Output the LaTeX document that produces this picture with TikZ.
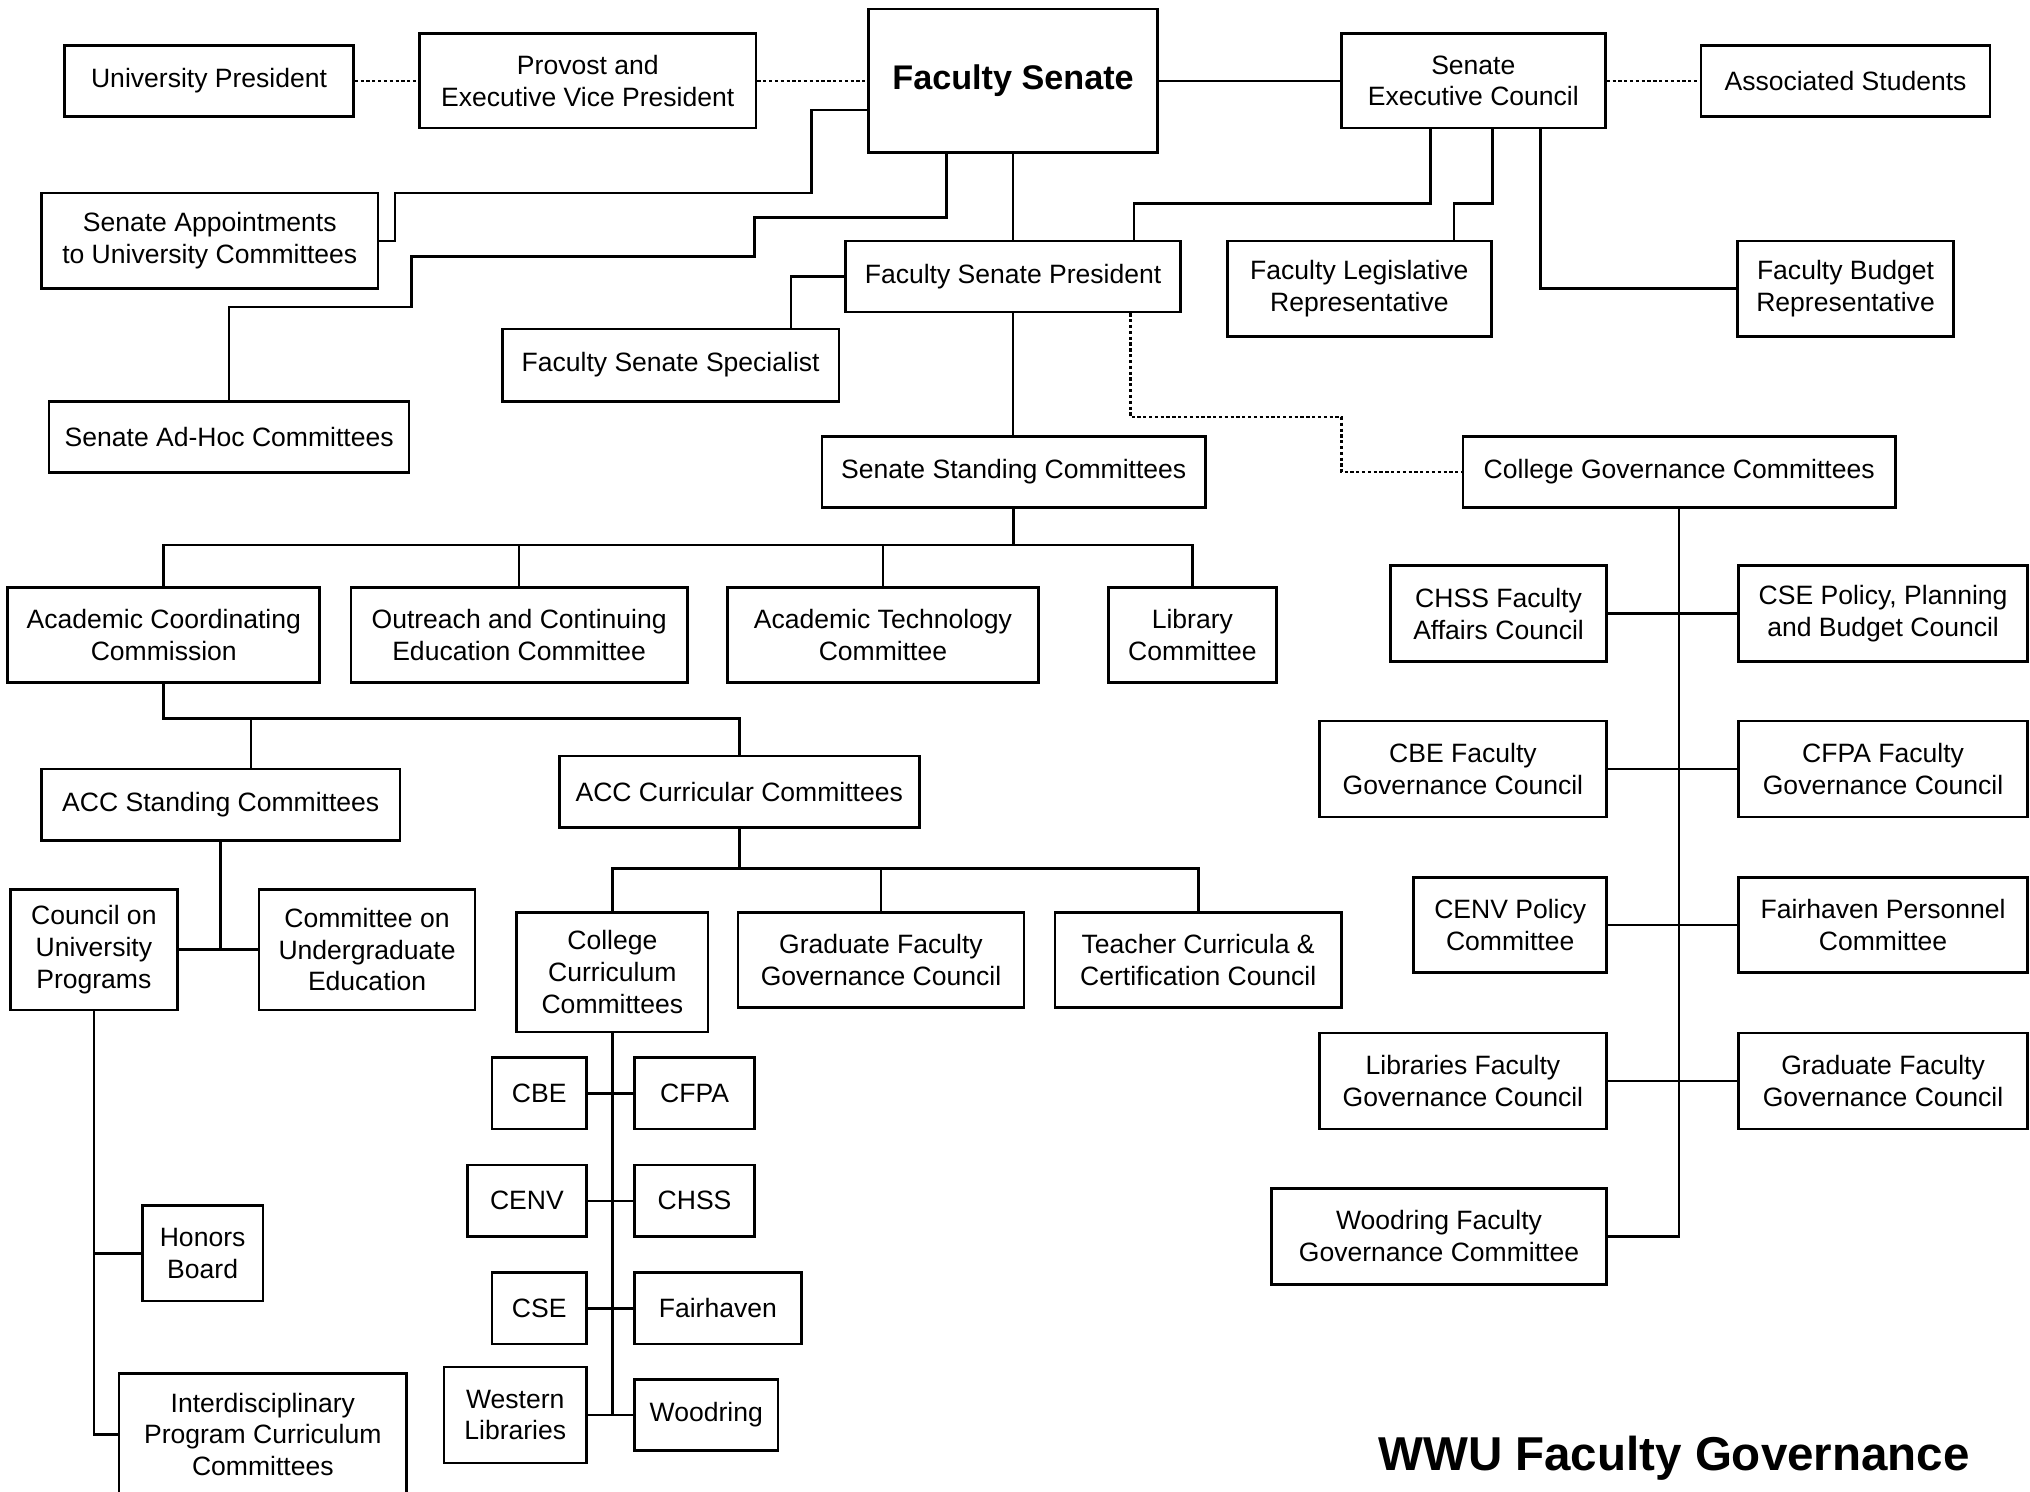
\documentclass[tikz,border=0pt]{standalone}
\usepackage{fontspec}
\setmainfont{Liberation Sans}
\begin{document}
\begin{tikzpicture}[x=1pt,y=-1pt,
  box/.style={draw,line width=2pt,inner sep=0pt,align=center,font=\fontsize{20.5pt}{24.6pt}\selectfont},
  conn/.style={line width=2pt},
  dotline/.style={line width=2pt,dash pattern=on 2.5pt off 2pt}]
\useasboundingbox (0,0) rectangle (1568,1152);
% top row
\node[box,minimum width=223pt,minimum height=55pt] (up) at (161.5,62.5) {University President};
\node[box,minimum width=260pt,minimum height=73pt] (prov) at (454,62.5) {Provost and\\Executive Vice President};
\node[box,minimum width=223pt,minimum height=111pt,font=\fontsize{26.4pt}{30pt}\selectfont\bfseries] (fs) at (782.5,62.5) {\raisebox{-2pt}{Faculty Senate}};
\node[box,minimum width=204pt,minimum height=73pt] (sec) at (1138,62.5) {Senate\\Executive Council};
\node[box,minimum width=223pt,minimum height=55pt] (as) at (1425.5,62.5) {Associated Students};
% second level
\node[box,minimum width=260pt,minimum height=74pt] (sauc) at (162,186) {Senate Appointments\\to University Committees};
\node[box,minimum width=259pt,minimum height=55pt] (fsp) at (782.5,213.5) {Faculty Senate President};
\node[box,minimum width=260pt,minimum height=56pt] (fss) at (518,282) {Faculty Senate Specialist};
\node[box,minimum width=204pt,minimum height=74pt] (flr) at (1050,223) {Faculty Legislative\\Representative};
\node[box,minimum width=167pt,minimum height=74pt] (fbr) at (1425.5,223) {Faculty Budget\\Representative};
\node[box,minimum width=278pt,minimum height=55pt] (sah) at (177,337.5) {Senate Ad-Hoc Committees};
\node[box,minimum width=296pt,minimum height=55pt] (ssc) at (783,364.5) {Senate Standing Committees};
\node[box,minimum width=334pt,minimum height=55pt] (cgc) at (1297,364.5) {College Governance Committees};
% standing committees
\node[box,minimum width=241pt,minimum height=73pt] (acc) at (126.5,490.5) {Academic Coordinating\\Commission};
\node[box,minimum width=260pt,minimum height=73pt] (oce) at (401,490.5) {Outreach and Continuing\\Education Committee};
\node[box,minimum width=240pt,minimum height=73pt] (atc) at (682,490.5) {Academic Technology\\Committee};
\node[box,minimum width=130pt,minimum height=73pt] (lc) at (921,490.5) {Library\\Committee};
% ACC
\node[box,minimum width=277pt,minimum height=55pt] (accs) at (170.5,621.5) {ACC Standing Committees};
\node[box,minimum width=278pt,minimum height=55pt] (accc) at (571,611.5) {ACC Curricular Committees};
\node[box,minimum width=129pt,minimum height=93pt] (cup) at (72.5,733.5) {Council on\\University\\Programs};
\node[box,minimum width=167pt,minimum height=93pt] (cue) at (283.5,733.5) {Committee on\\Undergraduate\\Education};
\node[box,minimum width=93pt,minimum height=74pt] (hon) at (156.5,968) {Honors\\Board};
\node[box,minimum width=222pt,minimum height=94pt] (ipcc) at (203,1108) {Interdisciplinary\\Program Curriculum\\Committees};
\node[box,minimum width=148pt,minimum height=92pt] (ccc) at (473,751) {College\\Curriculum\\Committees};
\node[box,minimum width=221pt,minimum height=73pt] (gfgca) at (680.5,741.5) {Graduate Faculty\\Governance Council};
\node[box,minimum width=221pt,minimum height=73pt] (tcc) at (925.5,741.5) {Teacher Curricula \&\\Certification Council};
% colleges
\node[box,minimum width=73pt,minimum height=55pt] (cbe) at (416.5,844.5) {CBE};
\node[box,minimum width=93pt,minimum height=55pt] (cfpa) at (536.5,844.5) {CFPA};
\node[box,minimum width=92pt,minimum height=55pt] (cenv) at (407,927.5) {CENV};
\node[box,minimum width=93pt,minimum height=55pt] (chss) at (536.5,927.5) {CHSS};
\node[box,minimum width=73pt,minimum height=55pt] (cse) at (416.5,1010.5) {CSE};
\node[box,minimum width=129pt,minimum height=55pt] (fhv) at (554.5,1010.5) {Fairhaven};
\node[box,minimum width=110pt,minimum height=74pt] (wl) at (398,1093) {Western\\Libraries};
\node[box,minimum width=111pt,minimum height=55pt] (wood) at (545.5,1093) {Woodring};
% college governance
\node[box,minimum width=167pt,minimum height=74pt] (chssfa) at (1157.5,474) {CHSS Faculty\\Affairs Council};
\node[box,minimum width=223pt,minimum height=74pt] (cseppb) at (1454.5,474) {CSE Policy, Planning\\and Budget Council};
\node[box,minimum width=222pt,minimum height=74pt] (cbefg) at (1130,594) {CBE Faculty\\Governance Council};
\node[box,minimum width=223pt,minimum height=74pt] (cfpafg) at (1454.5,594) {CFPA Faculty\\Governance Council};
\node[box,minimum width=149pt,minimum height=73pt] (cenvp) at (1166.5,714.5) {CENV Policy\\Committee};
\node[box,minimum width=223pt,minimum height=73pt] (fpc) at (1454.5,714.5) {Fairhaven Personnel\\Committee};
\node[box,minimum width=222pt,minimum height=74pt] (lfgc) at (1130,835) {Libraries Faculty\\Governance Council};
\node[box,minimum width=223pt,minimum height=74pt] (gfgcb) at (1454.5,835) {Graduate Faculty\\Governance Council};
\node[box,minimum width=259pt,minimum height=74pt] (wfgc) at (1111.5,955) {Woodring Faculty\\Governance Committee};
% title
\node[font=\fontsize{36.7pt}{40pt}\selectfont\bfseries,inner sep=0pt] (title) at (1293,1126) {WWU Faculty Governance};
% connectors top
\draw[dotline] (up.east) -- (prov.west);
\draw[dotline] (prov.east) -- (fs.west);
\draw[conn] (fs.east) -- (sec.west);
\draw[dotline] (sec.east) -- (as.west);
\draw[conn] (fs.west |- 0,85) -| (627,149) -| (305,186) -- (sauc.east |- 0,186);
\draw[conn] (fs.south -| 731,0) |- (583,168) |- (318,198) |- (sah.north |- 0,237) -- (sah.north);
\draw[conn] (fs.south) -- (fsp.north);
\draw[conn] (fsp.west) -| (fss.north -| 611,0);
\draw[conn] (fsp.south) -- (fsp.south |- ssc.north);
\draw[dotline] (fsp.south -| 873,0) |- (1036,322) |- (cgc.west);
\draw[conn] (sec.south -| 1105,0) |- (876,157) -- (fsp.north -| 876,0);
\draw[conn] (sec.south -| 1153,0) |- (1123,157) -- (flr.north -| 1123,0);
\draw[conn] (sec.south -| 1190,0) |- (fbr.west);
% standing committees
\draw[conn] (ssc.south) -- (ssc.south |- 0,421);
\draw[conn] (acc.north) |- (lc.north |- 0,421) -- (lc.north);
\draw[conn] (oce.north) -- (oce.north |- 0,421);
\draw[conn] (atc.north) -- (atc.north |- 0,421);
% ACC
\draw[conn] (acc.south) |- (accc.north |- 0,555) -- (accc.north);
\draw[conn] (accs.north -| 194,0) -- (194,555);
\draw[conn] (accs.south) -- (accs.south |- cup.east);
\draw[conn] (cup.east) -- (cue.west);
\draw[conn] (cup.south) |- (ipcc.west);
\draw[conn] (hon.west) -- (hon.west -| cup.south);
\draw[conn] (accc.south) -- (accc.south |- 0,671);
\draw[conn] (ccc.north) |- (tcc.north |- 0,671) -- (tcc.north);
\draw[conn] (gfgca.north) -- (gfgca.north |- 0,671);
\draw[conn] (ccc.south) -- (ccc.south |- wl.east);
\draw[conn] (cbe.east) -- (cfpa.west);
\draw[conn] (cenv.east) -- (chss.west);
\draw[conn] (cse.east) -- (fhv.west);
\draw[conn] (wl.east) -- (wood.west);
% college governance
\draw[conn] (cgc.south) -- (cgc.south |- wfgc.east) -- (wfgc.east);
\draw[conn] (chssfa.east) -- (cseppb.west);
\draw[conn] (cbefg.east) -- (cfpafg.west);
\draw[conn] (cenvp.east) -- (fpc.west);
\draw[conn] (lfgc.east) -- (gfgcb.west);
\end{tikzpicture}
\end{document}
